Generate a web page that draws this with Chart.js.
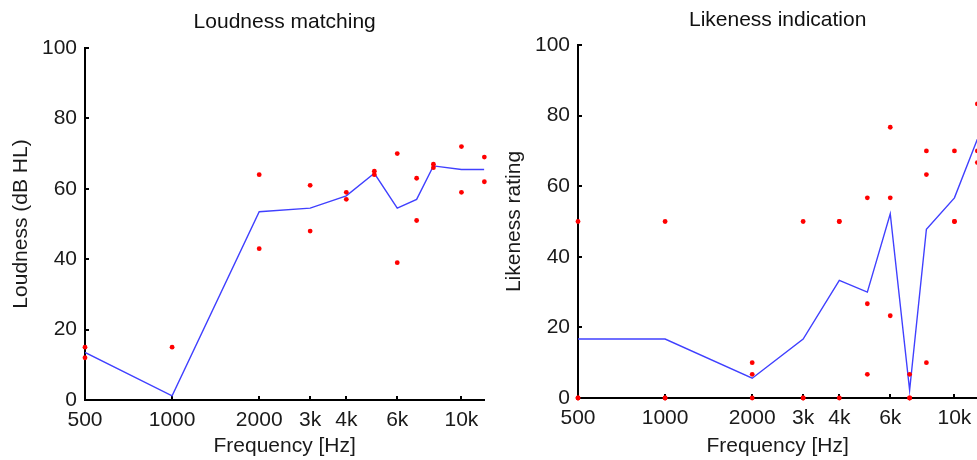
<!DOCTYPE html>
<html>
<head>
<meta charset="utf-8">
<title>Loudness matching / Likeness indication</title>
<script src="https://cdn.jsdelivr.net/npm/chart.js@4/dist/chart.umd.min.js"></script>
<style>
  html, body { margin: 0; padding: 0; background: #fff; }
  body { width: 977px; height: 460px; overflow: hidden; position: relative; }
  canvas { position: absolute; top: 0; }
  #loudness { left: 0; }
  #likeness { left: 493px; }
</style>
</head>
<body>
<canvas id="loudness" width="490" height="460"></canvas>
<canvas id="likeness" width="490" height="460"></canvas>
<script>
// test frequencies (Hz) and the labelled ticks on the log axis
const freqs = [500, 1000, 2000, 3000, 4000, 5000, 6000, 7000, 8000, 10000, 12000];
const tickValues = [500, 1000, 2000, 3000, 4000, 6000, 10000];
const tickLabels = ["500", "1000", "2000", "3k", "4k", "6k", "10k"];

// loudness matches (dB HL), one array per subject, plus the mean curve
const loudnessA = [15, 15, 64, 61, 59, 65, 70, 63, 67, 72, 69];
const loudnessB = [12, null, 43, 48, 57, 64, 39, 51, 66, 59, 62];
const loudnessMean = [13.5, 1.2, 53.5, 54.5, 58, 64.4, 54.5, 57, 66.5, 65.5, 65.5];

// likeness ratings, one array per subject, plus the mean curve
const likenessA = [50, 50, 10, 50, 50, 56.7, 76.7, 6.7, 70, 70, 83.3];
const likenessB = [0, 0, 6.7, 0, 50, 26.7, 56.7, 0, 63.3, 50, 70];
const likenessC = [0, 0, 0, 0, 0, 6.7, 23.3, 0, 10, 50, 66.7];
const likenessMean = [16.7, 16.7, 5.6, 16.7, 33.3, 30, 52.2, 2.2, 47.8, 56.7, 73.3];

Chart.defaults.font.family = '"Liberation Sans", Arial, sans-serif';
Chart.defaults.color = "#1a1a1a";

// center the panel title over the plot area instead of the whole canvas
const titleOverPlot = {
  id: "titleOverPlot",
  afterLayout(chart) {
    if (!chart.titleBlock) return;
    chart.titleBlock.left = chart.chartArea.left;
    chart.titleBlock.right = chart.chartArea.right;
  }
};

function toPoints(values) {
  return freqs
    .map((f, i) => ({ x: f, y: values[i] }))
    .filter(p => p.y !== null);
}

function dotSet(values) {
  return {
    data: toPoints(values),
    showLine: false,
    pointRadius: 2.4,
    pointBorderWidth: 0,
    pointBackgroundColor: "#ff0000",
    clip: false,
    order: 1
  };
}

function meanSet(values) {
  return {
    data: toPoints(values),
    showLine: true,
    borderColor: "#4040ff",
    borderWidth: 1.4,
    pointRadius: 0,
    tension: 0,
    order: 2
  };
}

function renderPanel(canvasId, title, yTitle, subjects, mean, box) {
  const ctx = document.getElementById(canvasId);
  if (!ctx) return;

  const axisLine = { display: true, color: "#000", width: 2 };
  const tickMarks = { drawOnChartArea: false, drawTicks: true, tickLength: -4, color: "#000", lineWidth: 2 };

  new Chart(ctx, {
    type: "scatter",
    data: {
      datasets: [meanSet(mean), ...subjects.map(dotSet)]
    },
    plugins: [titleOverPlot],
    options: {
      responsive: false,
      maintainAspectRatio: false,
      animation: false,
      events: [],
      layout: { padding: { left: 0, right: 4, top: 2, bottom: 0 } },
      plugins: {
        legend: { display: false },
        tooltip: { enabled: false },
        title: {
          display: true,
          text: title,
          color: "#111",
          font: { size: 21, weight: "normal" },
          padding: { top: box.titleTop, bottom: box.titleBottom }
        }
      },
      scales: {
        x: {
          type: "logarithmic",
          min: 500,
          max: 12000,
          border: axisLine,
          grid: tickMarks,
          afterBuildTicks: s => { s.ticks = tickValues.map(v => ({ value: v })); },
          afterFit: s => { s.height = box.xHeight; },
          ticks: {
            autoSkip: false,
            maxRotation: 0,
            padding: 11.4,
            font: { size: 21 },
            callback: (v, i) => tickLabels[i]
          },
          title: {
            display: true,
            text: "Frequency [Hz]",
            font: { size: 21 },
            padding: { top: 0, bottom: 1.4 }
          }
        },
        y: {
          min: 0,
          max: 100,
          border: axisLine,
          grid: tickMarks,
          afterFit: s => { s.width = 85; },
          ticks: { stepSize: 20, padding: 12, font: { size: 21 } },
          title: {
            display: true,
            text: yTitle,
            font: { size: 21 },
            padding: { top: 8.4, bottom: 0 }
          }
        }
      }
    }
  });
}

renderPanel("loudness", "Loudness matching", "Loudness (dB HL)",
  [loudnessA, loudnessB], loudnessMean,
  { titleTop: 7.4, titleBottom: 13.4, xHeight: 60 });

renderPanel("likeness", "Likeness indication", "Likeness rating",
  [likenessA, likenessB, likenessC], likenessMean,
  { titleTop: 6, titleBottom: 11.8, xHeight: 62 });
</script>
</body>
</html>
